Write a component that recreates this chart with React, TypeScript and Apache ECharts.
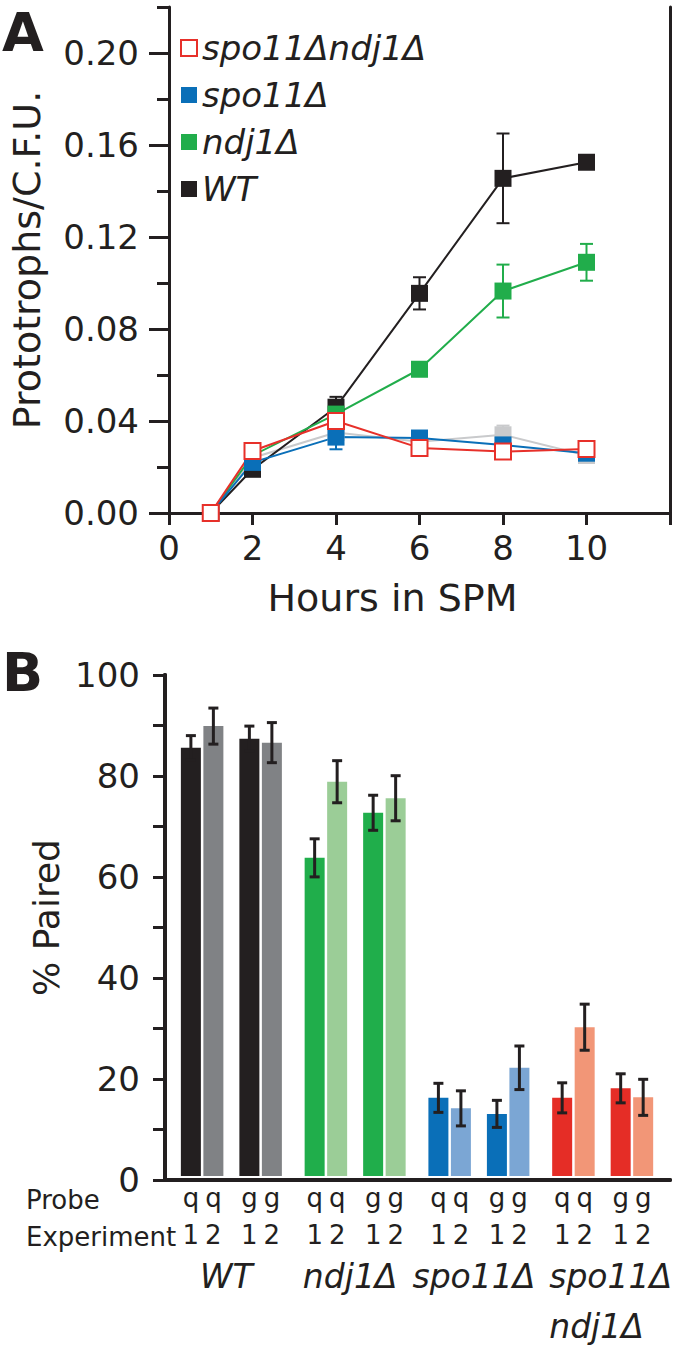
import React, { useEffect, useRef } from 'react';
import * as echarts from 'echarts';

// ---------- Panel A data ----------
const hours = [1, 2, 4, 6, 8, 10];
const wtVals = [0.0, 0.019, 0.046, 0.0955, 0.1455, 0.1525];
const wtErr = [0, 0.0015, 0.0045, 0.007, 0.0195, 0];
const ndj1Vals = [0.0, 0.025, 0.043, 0.0625, 0.0965, 0.109];
const ndj1Err = [0, 0, 0, 0.0015, 0.0115, 0.008];
const spo11Vals = [0.0, 0.022, 0.033, 0.0326, 0.0296, 0.026];
const spo11Err = [0, 0, 0.0053, 0, 0.002, 0];
const otherVals = [0.0, 0.024, 0.035, 0.031, 0.034, 0.025];
const otherErr = [0, 0, 0, 0, 0.004, 0];
const dblVals = [0.0, 0.027, 0.04, 0.0283, 0.0267, 0.0278];
const yTicksA = ['0.00', '0.04', '0.08', '0.12', '0.16', '0.20'];
const xTicksA = ['0', '2', '4', '6', '8', '10'];

// ---------- Panel B data ----------
const genotypes = ['WT', 'ndj1Δ', 'spo11Δ', 'spo11Δ\nndj1Δ'];
const q1Vals = [85.5, 63.5, 15.6, 15.6];
const q1Err = [2.4, 3.8, 2.9, 3.0];
const q2Vals = [89.8, 78.7, 13.5, 29.7];
const q2Err = [3.6, 4.2, 3.5, 4.6];
const g1Vals = [87.3, 72.5, 12.4, 17.5];
const g1Err = [2.5, 3.5, 2.7, 2.9];
const g2Vals = [86.5, 75.4, 21.6, 15.7];
const g2Err = [4.0, 4.5, 4.35, 3.6];
const yTicksB = ['0', '20', '40', '60', '80', '100'];

const ink = '#231f20';
const FONT = 'DejaVu Sans';
const cBlack = '#231f20';
const cGreen = '#21ad4b';
const cBlue = '#0a6fb8';
const cRed = '#e7302a';
const cGray = '#c9cacc';
const darkCols = ['#231f20', '#20ae4b', '#0a6fb8', '#e52d26'];
const lightCols = ['#808285', '#9bcd97', '#7ba6d4', '#f29677'];

const BAR_W = 20;
const GAP = 0.125;
const SPACER_W = 12;

function errRendererA(color: string) {
  return (params: any, api: any) => {
    const x = api.value(0);
    const v = api.value(1);
    const e = api.value(2);
    const t = api.coord([x, v + e]);
    const b = api.coord([x, v - e]);
    const hw = 6.5;
    const st = { stroke: color, lineWidth: 2 };
    return {
      type: 'group',
      children: [
        { type: 'line', shape: { x1: t[0], y1: t[1], x2: b[0], y2: b[1] }, style: st },
        { type: 'line', shape: { x1: t[0] - hw, y1: t[1], x2: t[0] + hw, y2: t[1] }, style: st },
        { type: 'line', shape: { x1: b[0] - hw, y1: b[1], x2: b[0] + hw, y2: b[1] }, style: st },
      ],
    };
  };
}

function errRendererB(offset: number) {
  return (params: any, api: any) => {
    const i = api.value(0);
    const v = api.value(1);
    const e = api.value(2);
    const t = api.coord([i, v + e]);
    const b = api.coord([i, v - e]);
    const x = t[0] + offset;
    const hw = 5;
    const st = { stroke: ink, lineWidth: 3 };
    return {
      type: 'group',
      children: [
        { type: 'line', shape: { x1: x, y1: t[1], x2: x, y2: b[1] }, style: st },
        { type: 'line', shape: { x1: x - hw, y1: t[1], x2: x + hw, y2: t[1] }, style: st },
        { type: 'line', shape: { x1: x - hw, y1: b[1], x2: x + hw, y2: b[1] }, style: st },
      ],
    };
  };
}

function lineSeries(name: string, vals: number[], color: string, hollow = false) {
  return {
    type: 'line',
    name,
    xAxisIndex: 0,
    yAxisIndex: 0,
    data: hours.map((h, i) => [h, vals[i]]),
    symbol: 'rect',
    symbolSize: hollow ? 16 : 17,
    lineStyle: { color, width: 2 },
    itemStyle: hollow
      ? { color: '#ffffff', borderColor: color, borderWidth: 2 }
      : { color, borderWidth: 0 },
    z: 3,
  };
}

function errSeriesA(vals: number[], errs: number[], color: string) {
  return {
    type: 'custom',
    xAxisIndex: 0,
    yAxisIndex: 0,
    z: 2,
    renderItem: errRendererA(color),
    data: hours.map((h, i) => [h, vals[i], errs[i]]).filter((d) => d[2] > 0),
  };
}

// bar layout offsets (same arithmetic as ECharts' own bar layout)
const widths = [BAR_W, BAR_W, SPACER_W, BAR_W, BAR_W];
const total = widths.reduce((s, w) => s + w * (1 + GAP), 0) - BAR_W * GAP;
const centers: number[] = [];
{
  let off = -total / 2;
  widths.forEach((w) => {
    centers.push(off + w / 2);
    off += w * (1 + GAP);
  });
}
const barOffsets = [centers[0], centers[1], centers[3], centers[4]];

function barSeries(vals: number[], cols: string[], probe: string, exp: string) {
  return {
    type: 'bar',
    xAxisIndex: 4,
    yAxisIndex: 5,
    barWidth: BAR_W,
    barGap: GAP * 100 + '%',
    data: vals.map((v, i) => ({ value: v, itemStyle: { color: cols[i] } })),
    label: {
      show: true,
      position: 'bottom',
      distance: 3,
      formatter: probe + '\n' + exp,
      fontSize: 26,
      lineHeight: 37,
      color: ink,
      fontFamily: FONT,
    },
    z: 2,
  };
}

function errSeriesB(vals: number[], errs: number[], offset: number) {
  return {
    type: 'custom',
    xAxisIndex: 4,
    yAxisIndex: 5,
    z: 5,
    renderItem: errRendererB(offset),
    data: vals.map((v, i) => [i, v, errs[i]]),
  };
}

const hideAll = { axisTick: { show: false }, axisLabel: { show: false }, splitLine: { show: false } };

// multi-line genotype names are left-aligned in the figure
const genotypeItems = genotypes.map((g) =>
  g.includes('\n') ? { value: g, textStyle: { padding: [0, 0, 0, 16] } } : g
);

const option: any = {
  animation: false,
  textStyle: { fontFamily: FONT, color: ink },
  grid: [
    { left: 164, top: 7, width: 506, height: 506 },
    { left: 165, top: 675, width: 505, height: 505 },
    { left: 169.5, top: 675, width: 496, height: 505 },
  ],
  legend: {
    left: 175,
    top: 26,
    orient: 'vertical',
    icon: 'rect',
    itemWidth: 16,
    itemHeight: 16,
    itemGap: 13,
    selectedMode: false,
    textStyle: { fontSize: 34, fontStyle: 'italic', color: ink, lineHeight: 34, fontFamily: FONT },
    data: [
      { name: 'spo11Δndj1Δ', itemStyle: { color: '#ffffff', borderColor: cRed, borderWidth: 2 } },
      { name: 'spo11Δ', itemStyle: { color: cBlue, borderWidth: 0 } },
      { name: 'ndj1Δ', itemStyle: { color: cGreen, borderWidth: 0 } },
      { name: 'WT', itemStyle: { color: cBlack, borderWidth: 0 } },
    ],
  },
  xAxis: [
    {
      gridIndex: 0,
      type: 'value',
      min: 0,
      max: 12,
      interval: 2,
      position: 'bottom',
      axisLine: { lineStyle: { color: ink, width: 3 } },
      axisTick: { length: 12, lineStyle: { color: ink, width: 3 } },
      axisLabel: {
        fontSize: 34,
        color: ink,
        margin: 18,
        formatter: (v: number) => (xTicksA.includes(String(v)) ? String(v) : ''),
      },
      splitLine: { show: false },
      name: 'Hours in SPM',
      nameLocation: 'middle',
      nameGap: 66,
      nameTextStyle: { fontSize: 38, color: ink, padding: [0, 54, 0, 0] },
    },
    {
      gridIndex: 0,
      type: 'value',
      min: 0,
      max: 12,
      position: 'top',
      axisLine: { lineStyle: { color: ink, width: 3 } },
      ...hideAll,
    },
    {
      gridIndex: 1,
      type: 'value',
      min: 0,
      max: 1,
      position: 'bottom',
      axisLine: { lineStyle: { color: ink, width: 4 } },
      ...hideAll,
    },
    {
      gridIndex: 1,
      type: 'value',
      min: 0,
      max: 1,
      position: 'top',
      axisLine: { lineStyle: { color: ink, width: 4 } },
      ...hideAll,
    },
    {
      gridIndex: 2,
      type: 'category',
      data: genotypeItems,
      position: 'bottom',
      axisLine: { show: false },
      axisTick: { show: false },
      axisLabel: {
        interval: 0,
        fontSize: 33,
        fontStyle: 'italic',
        color: ink,
        margin: 75,
        lineHeight: 50,
        padding: [0, 10, 0, 0],
        formatter: (v: string) =>
          v.includes('\n') ? v.split('\n').map((s) => '{l|' + s + '}').join('\n') : v,
        rich: {
          l: { align: 'left', fontSize: 33, fontStyle: 'italic', lineHeight: 50, color: ink, fontFamily: FONT },
        },
      },
    },
  ],
  yAxis: [
    {
      gridIndex: 0,
      type: 'value',
      min: 0,
      max: 0.22,
      interval: 0.02,
      position: 'left',
      axisLine: { show: true, lineStyle: { color: ink, width: 3 } },
      axisTick: { show: true, length: 12, lineStyle: { color: ink, width: 3 } },
      axisLabel: { show: false },
      splitLine: { show: false },
      name: 'Prototrophs/C.F.U.',
      nameLocation: 'middle',
      nameGap: 123,
      nameTextStyle: { fontSize: 38, color: ink },
    },
    {
      gridIndex: 0,
      type: 'value',
      min: 0,
      max: 0.22,
      position: 'left',
      axisLine: { show: false },
      axisTick: {
        show: true,
        length: 20,
        customValues: yTicksA.map(Number),
        lineStyle: { color: ink, width: 3 },
      },
      axisLabel: {
        show: true,
        customValues: yTicksA.map(Number),
        formatter: (v: number) => v.toFixed(2),
        fontSize: 34,
        color: ink,
        margin: 30,
      },
      splitLine: { show: false },
    },
    {
      gridIndex: 0,
      type: 'value',
      min: 0,
      max: 0.22,
      position: 'right',
      axisLine: { show: true, lineStyle: { color: ink, width: 3 } },
      ...hideAll,
    },
    {
      gridIndex: 1,
      type: 'value',
      min: 0,
      max: 100,
      interval: 10,
      position: 'left',
      axisLine: { show: true, lineStyle: { color: ink, width: 4 } },
      axisTick: { show: true, length: 12, lineStyle: { color: ink, width: 3 } },
      axisLabel: {
        fontSize: 34,
        color: ink,
        margin: 25,
        formatter: (v: number) => (yTicksB.includes(String(v)) ? String(v) : ''),
      },
      splitLine: { show: false },
      name: '% Paired',
      nameLocation: 'middle',
      nameGap: 88,
      nameTextStyle: { fontSize: 36, color: ink, padding: [0, 0, 0, 20] },
    },
    {
      gridIndex: 1,
      type: 'value',
      min: 0,
      max: 100,
      position: 'right',
      axisLine: { show: true, lineStyle: { color: ink, width: 4 } },
      ...hideAll,
    },
    { gridIndex: 2, type: 'value', min: 0, max: 100, position: 'left', show: false },
  ],
  graphic: [
    { type: 'text', x: 2, y: 32, style: { text: 'A', fontSize: 54, fontWeight: 'bold', fontFamily: FONT, fill: ink, verticalAlign: 'middle' } },
    { type: 'text', x: 2, y: 672, style: { text: 'B', fontSize: 54, fontWeight: 'bold', fontFamily: FONT, fill: ink, verticalAlign: 'middle' } },
    { type: 'text', x: 26, y: 1200, style: { text: 'Probe', fontSize: 26, fontFamily: FONT, fill: ink, verticalAlign: 'middle' } },
    { type: 'text', x: 26, y: 1237, style: { text: 'Experiment', fontSize: 26, fontFamily: FONT, fill: ink, verticalAlign: 'middle' } },
  ],
  series: [
    errSeriesA(otherVals, otherErr, cGray),
    lineSeries('other', otherVals, cGray),
    errSeriesA(wtVals, wtErr, cBlack),
    lineSeries('WT', wtVals, cBlack),
    errSeriesA(ndj1Vals, ndj1Err, cGreen),
    lineSeries('ndj1Δ', ndj1Vals, cGreen),
    errSeriesA(spo11Vals, spo11Err, cBlue),
    lineSeries('spo11Δ', spo11Vals, cBlue),
    lineSeries('spo11Δndj1Δ', dblVals, cRed, true),

    barSeries(q1Vals, darkCols, 'q', '1'),
    barSeries(q2Vals, lightCols, 'q', '2'),
    { type: 'bar', xAxisIndex: 4, yAxisIndex: 5, barWidth: SPACER_W, barGap: GAP * 100 + '%', data: genotypes.map(() => null) },
    barSeries(g1Vals, darkCols, 'g', '1'),
    barSeries(g2Vals, lightCols, 'g', '2'),

    errSeriesB(q1Vals, q1Err, barOffsets[0]),
    errSeriesB(q2Vals, q2Err, barOffsets[1]),
    errSeriesB(g1Vals, g1Err, barOffsets[2]),
    errSeriesB(g2Vals, g2Err, barOffsets[3]),
  ],
};

export default function App() {
  const ref = useRef<HTMLDivElement>(null);
  useEffect(() => {
    document.body.style.margin = '0';
    const chart = echarts.init(ref.current as HTMLDivElement, null, { renderer: 'svg' });
    chart.setOption(option);
    return () => chart.dispose();
  }, []);
  return <div ref={ref} style={{ width: 675, height: 1351 }} />;
}
